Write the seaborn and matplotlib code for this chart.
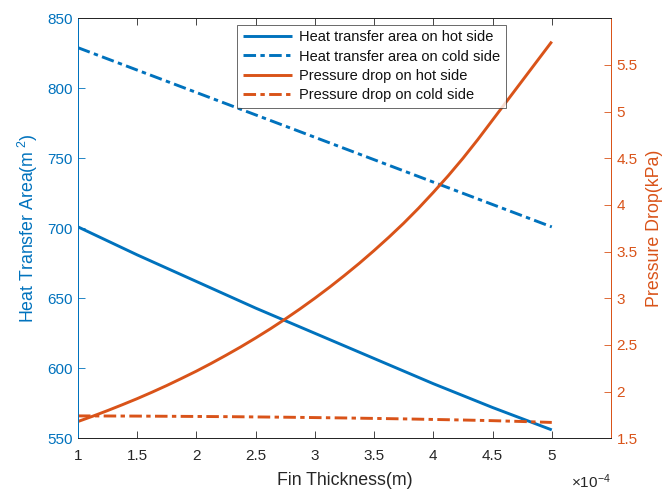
import matplotlib
matplotlib.use("Agg")
import matplotlib.pyplot as plt
import seaborn as sns
import pandas as pd

# ---- data (fin thickness in units of 1e-4 m) ----
fin_thickness = [1.00, 1.25, 1.50, 1.75, 2.00, 2.25, 2.50, 2.75, 3.00,
                 3.25, 3.50, 3.75, 4.00, 4.25, 4.50, 4.75, 5.00]
area_hot = [701, 691, 681, 671.5, 662, 652.5, 643, 634, 625,
            616, 607, 598, 589, 580.5, 572, 564, 556]
area_cold = [829, 821, 813, 805, 797, 789, 781, 773, 765,
             757, 749, 741, 733, 725, 717, 709, 701]
dp_cold = [1.740, 1.739, 1.738, 1.736, 1.734, 1.732, 1.729, 1.726, 1.722,
           1.718, 1.713, 1.708, 1.702, 1.696, 1.689, 1.680, 1.670]

# hot-side pressure drop is read at a finer step (strongly curved)
fin_thickness_fine = [1.000, 1.125, 1.250, 1.375, 1.500, 1.625, 1.750, 1.875,
                      2.000, 2.125, 2.250, 2.375, 2.500, 2.625, 2.750, 2.875,
                      3.000, 3.125, 3.250, 3.375, 3.500, 3.625, 3.750, 3.875,
                      4.000, 4.125, 4.250, 4.375, 4.500, 4.625, 4.750, 4.875,
                      5.000]
dp_hot = [1.680, 1.737, 1.797, 1.860, 1.925, 1.994, 2.066, 2.142,
          2.220, 2.303, 2.390, 2.480, 2.575, 2.674, 2.778, 2.887,
          3.001, 3.120, 3.245, 3.375, 3.512, 3.655, 3.805, 3.965,
          4.135, 4.312, 4.500, 4.700, 4.910, 5.120, 5.330, 5.540,
          5.750]

x_ticks = [1, 1.5, 2, 2.5, 3, 3.5, 4, 4.5, 5]
x_tick_labels = ["1", "1.5", "2", "2.5", "3", "3.5", "4", "4.5", "5"]
left_ticks = [550, 600, 650, 700, 750, 800, 850]
right_ticks = [1.5, 2, 2.5, 3, 3.5, 4, 4.5, 5, 5.5]
right_tick_labels = ["1.5", "2", "2.5", "3", "3.5", "4", "4.5", "5", "5.5"]

labels = ["Heat transfer area on hot side", "Heat transfer area on cold side",
          "Pressure drop on hot side", "Pressure drop on cold side"]

BLUE = "#0072BD"
ORANGE = "#D95319"
DARK = "#262626"

sns.set_theme(style="white")
plt.rcParams["font.family"] = ["Liberation Sans", "DejaVu Sans"]
plt.rcParams["mathtext.fontset"] = "custom"
plt.rcParams["mathtext.rm"] = "Liberation Sans"
plt.rcParams["mathtext.it"] = "Liberation Sans:italic"
plt.rcParams["axes.unicode_minus"] = False

df = pd.DataFrame({"x": fin_thickness, "ah": area_hot, "ac": area_cold,
                   "pc": dp_cold})
df_fine = pd.DataFrame({"x": fin_thickness_fine, "ph": dp_hot})

fig = plt.figure(figsize=(6.65, 4.93), dpi=100)
ax = fig.add_axes([78 / 665, 1 - 438.3 / 493, 533 / 665, 420 / 493])
ax2 = ax.twinx()

dashdot = (0, (4.3, 1.5, 1.5, 1.5))
lw = 2.1

sns.lineplot(data=df, x="x", y="ah", ax=ax, color=BLUE, linewidth=lw,
             label=labels[0], legend=False)
sns.lineplot(data=df, x="x", y="ac", ax=ax, color=BLUE, linewidth=lw,
             linestyle=dashdot, label=labels[1], legend=False)
sns.lineplot(data=df_fine, x="x", y="ph", ax=ax2, color=ORANGE, linewidth=lw,
             label=labels[2], legend=False)
sns.lineplot(data=df, x="x", y="pc", ax=ax2, color=ORANGE, linewidth=lw,
             linestyle=dashdot, label=labels[3], legend=False)

for ln in ax.get_lines() + ax2.get_lines():
    ln.set_dash_capstyle("butt")
    ln.set_solid_capstyle("butt")
    ln.set_solid_joinstyle("round")

ax.set_xlim(1, 5.5)
ax.set_ylim(550, 850)
ax2.set_ylim(1.5, 6.0)

ax.set_xticks(x_ticks)
ax.set_xticklabels(x_tick_labels)
ax.set_yticks(left_ticks)
ax.set_yticklabels([str(v) for v in left_ticks])
ax2.set_yticks(right_ticks)
ax2.set_yticklabels(right_tick_labels)

fs = 11
ax.tick_params(axis="x", direction="in", length=5, width=0.6, colors=DARK,
               labelsize=fs, top=True, bottom=True, pad=8)
ax.tick_params(axis="y", direction="in", length=5, width=0.6, colors=BLUE,
               labelsize=fs, left=True, right=False, pad=4)
ax2.tick_params(axis="y", direction="in", length=5, width=0.6, colors=ORANGE,
                labelsize=fs, right=True, left=False, pad=4)
ax2.tick_params(axis="x", top=False, bottom=False)

for a in (ax, ax2):
    for s in a.spines.values():
        s.set_linewidth(0.7)
    a.spines["top"].set_color(DARK)
    a.spines["bottom"].set_color(DARK)
    a.spines["left"].set_color(BLUE)
    a.spines["right"].set_color(ORANGE)
    a.grid(False)

lab_fs = 12.8
ax.set_xlabel("Fin Thickness(m)", fontsize=lab_fs, color=DARK, labelpad=6)
ax.set_ylabel(r"Heat Transfer Area(m$^{\mathregular{\ 2}}$)", fontsize=lab_fs,
              color=BLUE, labelpad=5)
ax2.set_ylabel("Pressure Drop(kPa)", fontsize=lab_fs, color=ORANGE, labelpad=6)

ax.text(1.0, -0.082, r"$\times\mathregular{10^{-4}}$", transform=ax.transAxes,
        ha="right", va="top", fontsize=fs, color=DARK)

handles = ax.get_lines() + ax2.get_lines()
leg = ax2.legend(handles, labels, loc="upper left",
                 bbox_to_anchor=(0.298, 0.985), borderaxespad=0,
                 fontsize=10.5, frameon=True, fancybox=False,
                 handlelength=3.4, handletextpad=0.45, labelspacing=0.35,
                 borderpad=0.4)
leg.get_frame().set_edgecolor(DARK)
leg.get_frame().set_linewidth(0.6)
for t in leg.get_texts():
    t.set_color("#111111")

fig.savefig("out.png", dpi=100, facecolor="white")
